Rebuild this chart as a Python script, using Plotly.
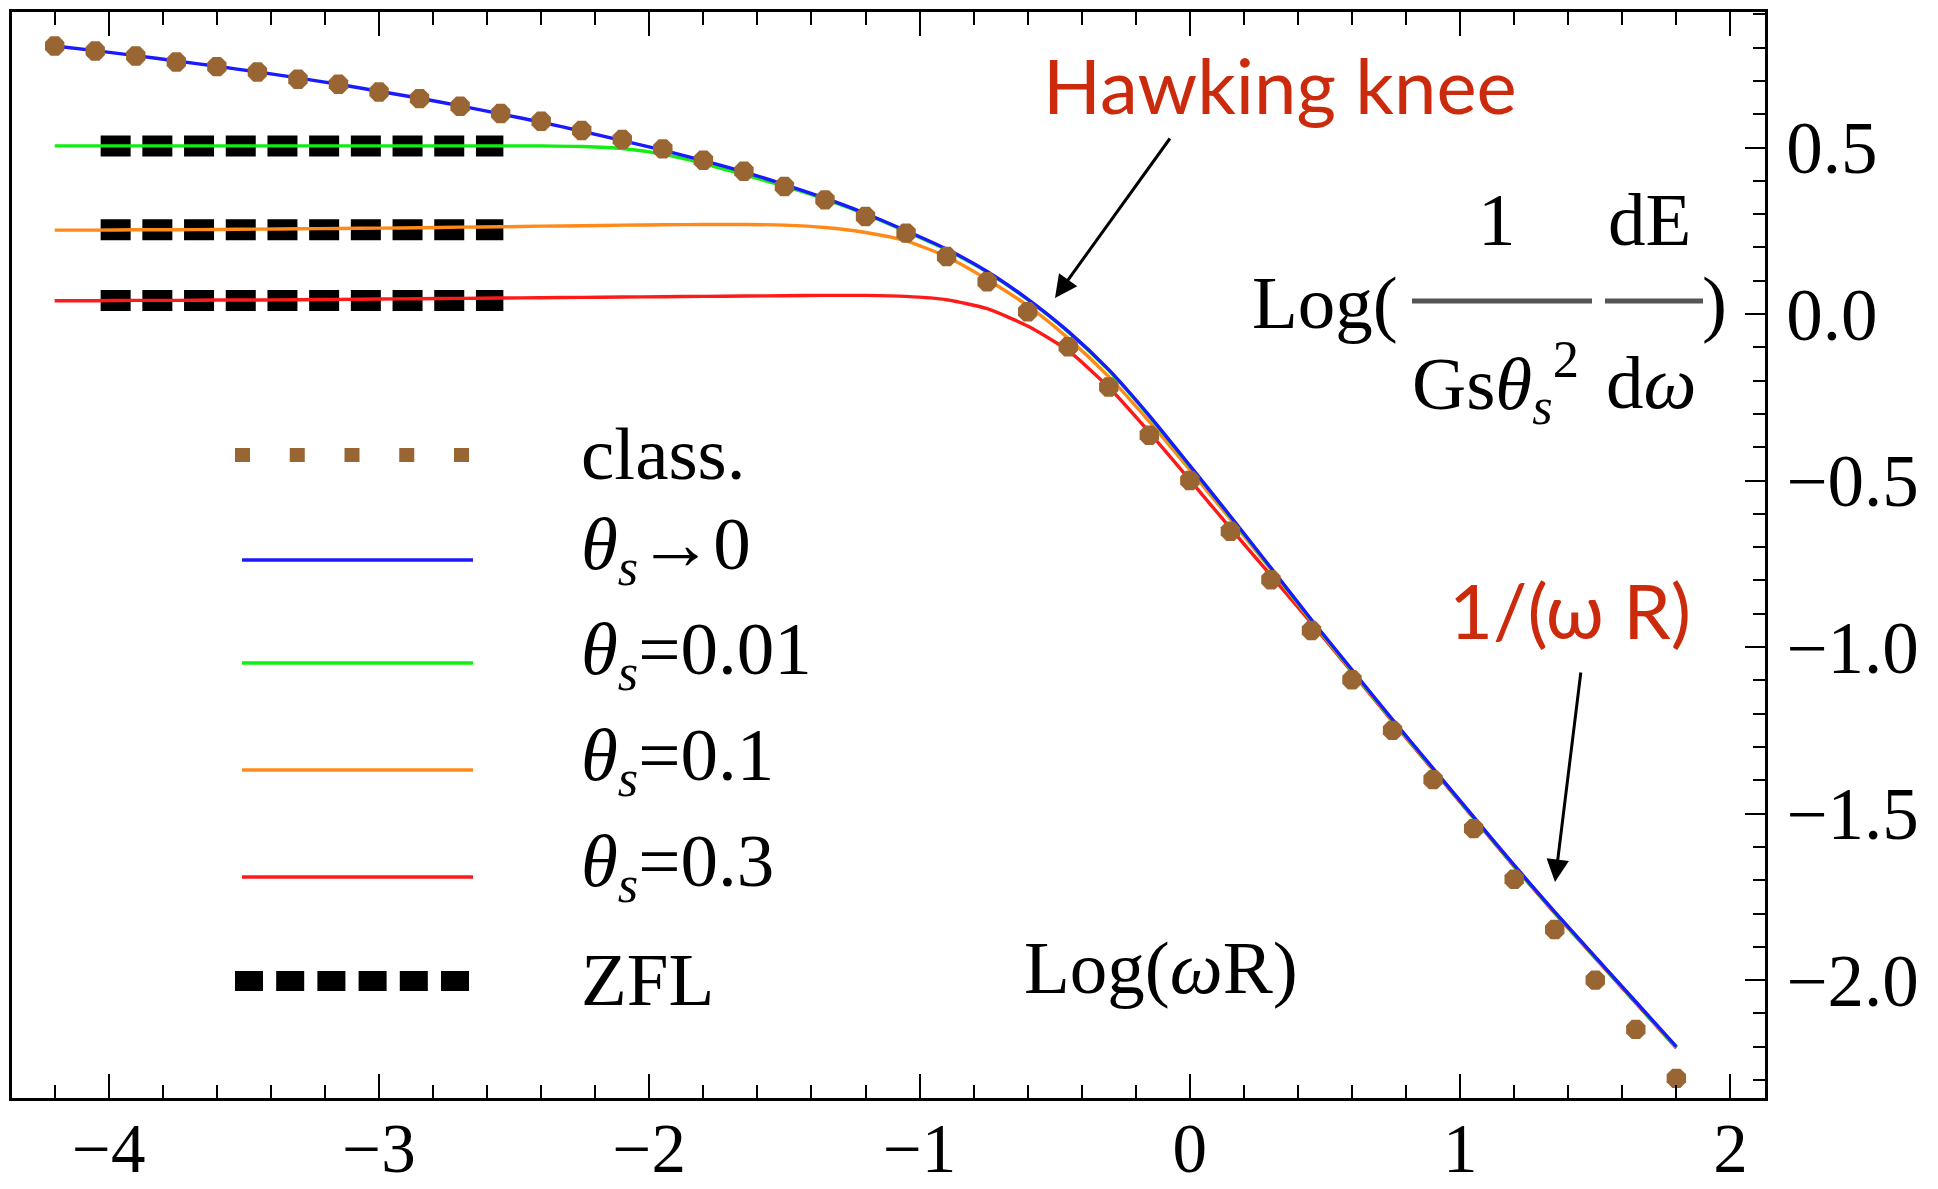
import plotly.graph_objects as go

# ---------------- data ----------------
log_wR = [-4.2, -4.05, -3.9, -3.75, -3.6, -3.45, -3.3, -3.15, -3.0, -2.85,
          -2.7, -2.55, -2.4, -2.25, -2.1, -1.95, -1.8, -1.65, -1.5, -1.35,
          -1.2, -1.05, -0.9, -0.75, -0.6, -0.45, -0.3, -0.15, 0.0, 0.15,
          0.3, 0.45, 0.6, 0.75, 0.9, 1.05, 1.2, 1.35, 1.5, 1.65, 1.8]

classical = [0.805, 0.790, 0.775, 0.757, 0.743, 0.727, 0.705, 0.690, 0.667, 0.647,
             0.624, 0.602, 0.579, 0.551, 0.524, 0.496, 0.462, 0.429, 0.383, 0.343,
             0.293, 0.243, 0.173, 0.097, 0.007, -0.098, -0.219, -0.364, -0.500, -0.652,
             -0.798, -0.950, -1.098, -1.250, -1.398, -1.545, -1.697, -1.848, -2.000, -2.148,
             -2.295]

theta_0 = [0.805, 0.791, 0.776, 0.760, 0.744, 0.727, 0.709, 0.690, 0.669, 0.648,
           0.625, 0.601, 0.576, 0.549, 0.521, 0.492, 0.461, 0.427, 0.389, 0.348,
           0.302, 0.250, 0.195, 0.128, 0.045, -0.052, -0.167, -0.305, -0.455, -0.607,
           -0.762, -0.918, -1.068, -1.218, -1.364, -1.510, -1.655, -1.795, -1.930, -2.065,
           -2.200]

theta_001 = [0.505, 0.505, 0.505, 0.505, 0.505, 0.505, 0.505, 0.505, 0.505, 0.505,
             0.505, 0.505, 0.505, 0.503, 0.497, 0.480, 0.452, 0.419, 0.384, 0.345,
             0.300, 0.248, 0.193, 0.126, 0.043, -0.054, -0.169, -0.307, -0.457, -0.609,
             -0.764, -0.920, -1.070, -1.220, -1.366, -1.512, -1.657, -1.797, -1.932, -2.067,
             -2.202]

theta_01 = [0.252, 0.252, 0.253, 0.253, 0.254, 0.255, 0.256, 0.257, 0.258, 0.259,
            0.261, 0.262, 0.264, 0.265, 0.267, 0.268, 0.269, 0.269, 0.267, 0.260,
            0.245, 0.220, 0.172, 0.104, 0.025, -0.073, -0.188, -0.323, -0.468, -0.616,
            -0.767, -0.922, -1.072, -1.222, -1.367, -1.512, -1.657, -1.797, -1.932, -2.067,
            -2.202]

theta_03 = [0.040, 0.040, 0.041, 0.041, 0.042, 0.042, 0.043, 0.044, 0.045, 0.046,
            0.047, 0.048, 0.049, 0.050, 0.051, 0.052, 0.053, 0.054, 0.055, 0.056,
            0.056, 0.053, 0.043, 0.016, -0.036, -0.110, -0.220, -0.355, -0.498, -0.643,
            -0.785, -0.928, -1.075, -1.224, -1.369, -1.514, -1.659, -1.799, -1.934, -2.069,
            -2.204]

zfl_x = [-4.03, -2.54]
zfl_levels = [0.505, 0.253, 0.041]

x_ticks = [-4, -3, -2, -1, 0, 1, 2]
y_ticks = [0.5, 0.0, -0.5, -1.0, -1.5, -2.0]

# ---------------- styling ----------------
W, H = 1938, 1189
L, R, T, B = 12, 1765, 12, 1098          # plot-area edges in pixels
X_RANGE = [-4.358, 2.128]
Y_RANGE = [-2.354, 0.907]
SERIF = "Liberation Serif, Times New Roman, serif"
HAND = "Lato, sans-serif"
RED_TXT = "#cc2a0c"
BROWN = "#996633"
C_BLUE, C_GREEN, C_ORANGE, C_RED = "#1a1aff", "#11ee11", "#ff8a1a", "#ff1a1a"


def px(x):
    return (x - L) / (R - L)


def py(y):
    return (B - y) / (B - T)


fig = go.Figure()

for lvl in zfl_levels:
    fig.add_trace(go.Scatter(x=zfl_x, y=[lvl, lvl], mode="lines",
                             line=dict(color="black", width=21, dash="30px,11.7px"),
                             showlegend=False, hoverinfo="skip"))

for ys, col in [(theta_03, C_RED), (theta_01, C_ORANGE), (theta_001, C_GREEN), (theta_0, C_BLUE)]:
    fig.add_trace(go.Scatter(x=log_wR, y=ys, mode="lines",
                             line=dict(color=col, width=3.4, shape="spline", smoothing=0.6),
                             showlegend=False))

fig.add_trace(go.Scatter(x=log_wR, y=classical, mode="markers",
                         marker=dict(symbol="octagon", size=21, color=BROWN),
                         showlegend=False))

# invisible trace carrying the top (mirrored) tick axis
fig.add_trace(go.Scatter(x=[log_wR[0]], y=[classical[0]], xaxis="x2", mode="markers",
                         marker=dict(opacity=0), showlegend=False, hoverinfo="skip"))

shapes = []
# legend samples
shapes.append(dict(type="line", xref="paper", yref="paper", x0=px(235), x1=px(469), y0=py(455), y1=py(455),
                   line=dict(color=BROWN, width=14, dash="15px,39.75px")))
for yy, col in [(560, C_BLUE), (663, C_GREEN), (770, C_ORANGE), (877, C_RED)]:
    shapes.append(dict(type="line", xref="paper", yref="paper", x0=px(242), x1=px(473), y0=py(yy), y1=py(yy),
                       line=dict(color=col, width=3.4)))
shapes.append(dict(type="line", xref="paper", yref="paper", x0=px(235), x1=px(469), y0=py(981), y1=py(981),
                   line=dict(color="black", width=20, dash="28px,13.2px")))
# fraction bars of the y-axis label
for x0, x1 in [(1412, 1592), (1605, 1703)]:
    shapes.append(dict(type="line", xref="paper", yref="paper", x0=px(x0), x1=px(x1), y0=py(301), y1=py(301),
                       line=dict(color="#555555", width=5)))

annotations = []


def ann(text, x, y, size=75, xanchor="center", yanchor="middle", color="black", family=SERIF):
    annotations.append(dict(text=text, x=px(x), y=py(y), xref="paper", yref="paper",
                            xanchor=xanchor, yanchor=yanchor, showarrow=False,
                            font=dict(family=family, size=size, color=color)))


leg_x = 579
ann("class.", leg_x, 453, xanchor="left")
ann("<i>θ</i><sub><i>s</i></sub>→0", leg_x, 549, xanchor="left")
ann("<i>θ</i><sub><i>s</i></sub>=0.01", leg_x, 654, xanchor="left")
ann("<i>θ</i><sub><i>s</i></sub>=0.1", leg_x, 760, xanchor="left")
ann("<i>θ</i><sub><i>s</i></sub>=0.3", leg_x, 866, xanchor="left")
ann("ZFL", leg_x, 980, xanchor="left")

# y-axis label (fraction)
ann("Log(", 1400, 302, xanchor="right")
ann("1", 1497, 220)
ann("dE", 1649, 220)
ann("Gs<i>θ</i><sub><i>s</i></sub><sup>2</sup>", 1495, 382)
ann("d<i>ω</i>", 1651, 382)
ann(")", 1714, 302)

# x-axis label
ann("Log(<i>ω</i>R)", 1161, 967)

# red notes
ann("Hawking knee", 1280, 84, size=76, color=RED_TXT, family=HAND)
ann("1/(ω R)", 1570, 609, size=76, color=RED_TXT, family=HAND)

# arrows
for hx, hy, tx, ty in [(1055, 298, 1171, 137), (1555, 882, 1581, 671)]:
    annotations.append(dict(text="", x=px(hx), y=py(hy), xref="paper", yref="paper",
                            ax=tx - hx, ay=ty - hy, showarrow=True, arrowhead=2,
                            arrowsize=1.5, arrowwidth=3, arrowcolor="black"))

fig.update_layout(
    width=W, height=H, autosize=False,
    margin=dict(l=L, r=W - R, t=T, b=H - B, pad=0),
    paper_bgcolor="white", plot_bgcolor="white",
    shapes=shapes, annotations=annotations,
    showlegend=False,
    xaxis=dict(range=X_RANGE, tickvals=x_ticks, automargin=False,
               showline=True, linecolor="black", linewidth=2.5, mirror=True,
               ticks="inside", ticklen=24, tickwidth=2, tickcolor="black",
               tickfont=dict(family=SERIF, size=69, color="black"), ticklabelstandoff=-12,
               showgrid=False, zeroline=False,
               minor=dict(dtick=0.2, tick0=0, ticks="inside", ticklen=13, tickwidth=2,
                          tickcolor="black", showgrid=False)),
    xaxis2=dict(range=X_RANGE, overlaying="x", side="top", anchor="y", automargin=False,
                tickvals=x_ticks, showticklabels=False, showline=False,
                ticks="inside", ticklen=24, tickwidth=2, tickcolor="black",
                showgrid=False, zeroline=False,
                minor=dict(dtick=0.2, tick0=0, ticks="inside", ticklen=13, tickwidth=2,
                           tickcolor="black", showgrid=False)),
    yaxis=dict(range=Y_RANGE, tickvals=y_ticks, tickformat=".1f", side="right", automargin=False,
               showline=True, linecolor="black", linewidth=2.5, mirror=True,
               ticks="inside", ticklen=20, tickwidth=2, tickcolor="black",
               tickfont=dict(family=SERIF, size=73, color="black"), ticklabelstandoff=4,
               showgrid=False, zeroline=False,
               minor=dict(dtick=0.1, tick0=0, ticks="inside", ticklen=12, tickwidth=2,
                          tickcolor="black", showgrid=False)),
)

fig.write_html("out.html", config={"displayModeBar": False},
               post_script="document.body.style.margin='0';")
